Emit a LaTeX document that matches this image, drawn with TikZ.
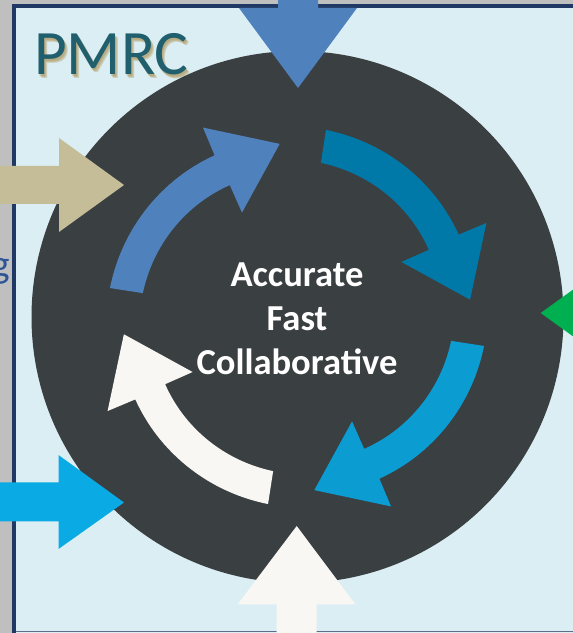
\documentclass[tikz,border=0pt]{standalone}
\usepackage{fontspec}
\setmainfont{Carlito}
\usepackage{tikz}
\definecolor{panelblue}{HTML}{DBEEF4}
\definecolor{pagegray}{HTML}{BFBFBF}
\definecolor{framenavy}{HTML}{1F3864}
\definecolor{edgeline}{HTML}{5B7088}
\definecolor{hubgray}{HTML}{3A3F42}
\definecolor{accentblue}{HTML}{4F81BD}
\definecolor{deepblue}{HTML}{0079A8}
\definecolor{midblue}{HTML}{0B9CD2}
\definecolor{skyblue}{HTML}{0AAAE4}
\definecolor{offwhite}{HTML}{F8F7F3}
\definecolor{khaki}{HTML}{C4BD97}
\definecolor{leafgreen}{HTML}{00B050}
\definecolor{titleteal}{HTML}{1F5F6E}
\definecolor{titleshade}{HTML}{A88A45}
\definecolor{wordblue}{HTML}{2F5597}
\newcommand{\cyclearrow}[2]{\fill[#2,rotate=#1]
  plot[domain=0:-54.2,samples=30] (\x:{189.3+0.144*\x})
  -- (-54.8:211.5) -- (-75.5:174) -- (-53.4:118)
  -- plot[domain=-54.2:0,samples=30] (\x:{156+0.1476*\x}) -- cycle;}

\begin{document}
\begin{tikzpicture}[
      x=0.025cm, y=0.025cm,
      title/.style={font=\fontsize{45}{54}\selectfont, inner sep=0pt, anchor=base west},
      shade/.style={title, text=titleshade, opacity=0.3},
      goals/.style={font=\bfseries\fontsize{26}{31.1}\selectfont, text=white, align=center, inner sep=0pt}
      ]
      \useasboundingbox (0,0) rectangle (573,633);
      \clip (0,0) rectangle (573,633);
      % page, frame and panel
      \fill[pagegray] (0,0) rectangle (573,633);
      \fill[framenavy] (12,-10) rectangle (600,629);
      \fill[panelblue] (16,-10) rectangle (600,625);
      \draw[edgeline, line width=0.7pt] (16,1.3) -- (600,1.3);
      \node[font=\fontsize{28}{34}\selectfont, text=wordblue, anchor=base east, inner sep=0pt] (cutword) at (10.5,355) {g};
      \node[shade] (shade a) at (35,556.5) {PMRC};
      \node[shade] (shade b) at (36,555.5) {PMRC};
      \node[shade] (shade c) at (37,554.5) {PMRC};
      \node[title, text=titleteal] (title) at (34,558) {PMRC};
      % hub
      \fill[hubgray] (297.5,316) circle (266);
      \begin{scope}[shift={(297,316)}]
        \cyclearrow{171.2}{accentblue}
        \cyclearrow{81.2}{deepblue}
        \cyclearrow{-8.8}{midblue}
        \cyclearrow{-98.8}{offwhite}
      \end{scope}
      % arrows coming in
      \fill[accentblue] (278,640) -- (278,625) -- (239,625) -- (298,545) -- (357,625) -- (318,625) -- (318,640) -- cycle;
      \fill[khaki] (-5,467) -- (59,467) -- (59,495) -- (124,448) -- (59,401) -- (59,429) -- (-5,429) -- cycle;
      \fill[skyblue] (-5,150.5) -- (58.5,150.5) -- (58.5,178) -- (124,130.5) -- (58.5,84) -- (58.5,111.5) -- (-5,111.5) -- cycle;
      \fill[offwhite] (276.5,-5) -- (276.5,28.5) -- (237.5,28.5) -- (296.7,107) -- (355.5,28.5) -- (316.5,28.5) -- (316.5,-5) -- cycle;
      \fill[leafgreen] (680,339.5) -- (605.7,339.5) -- (605.7,367) -- (540.7,320) -- (605.7,273) -- (605.7,300.5) -- (680,300.5) -- cycle;
      \node[goals] (goals) at (297,314) {Accurate\\Fast\\Collaborative};
    \end{tikzpicture}
\end{document}
